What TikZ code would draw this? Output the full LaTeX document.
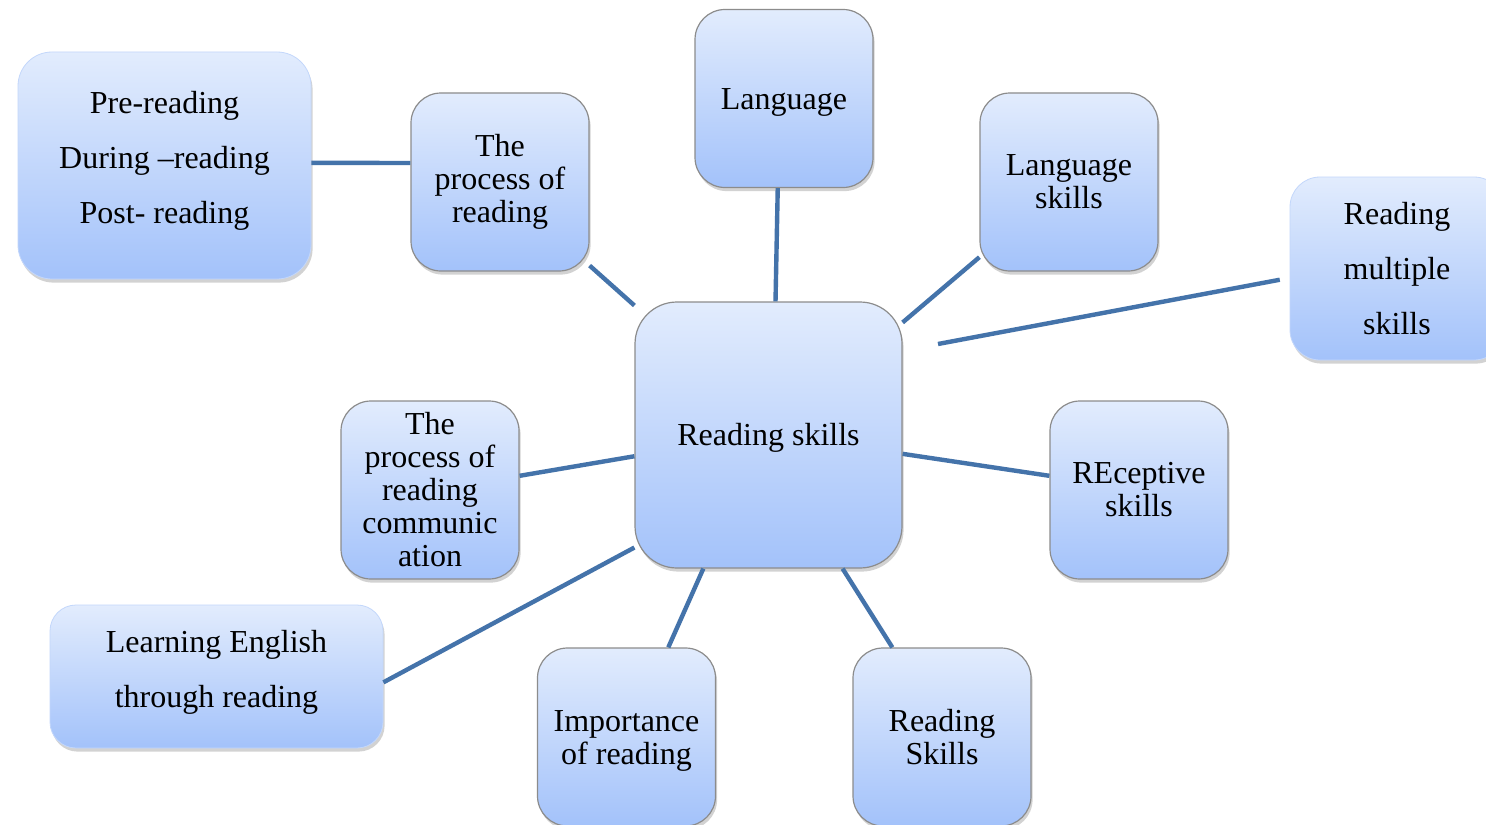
\documentclass[tikz,border=0pt]{standalone}
\usepackage{fontspec}
\setmainfont{Liberation Serif}
\usetikzlibrary{shadows,calc}
\definecolor{boxtop}{HTML}{E2ECFD}
\definecolor{boxbot}{HTML}{A3C2FA}
\definecolor{edgegray}{HTML}{8C8C8C}
\definecolor{linkblue}{HTML}{4473AA}
\tikzset{
 box/.style={rectangle, rounded corners=15pt, top color=boxtop, bottom color=boxbot,
   draw=edgegray, line width=0.6pt, align=center, font=\fontsize{16}{16.5}\selectfont,
   inner sep=2pt, drop shadow={opacity=0.35, shadow xshift=0.8pt, shadow yshift=-1.8pt}},
 softbox/.style={box, draw=boxtop!50!boxbot, line width=0.4pt},
 sqbox/.style={box, minimum width=89pt, minimum height=89pt},
 wide/.style={font=\fontsize{16}{27.5}\selectfont},
 conn/.style={draw=linkblue, line width=2.2pt},
}
\begin{document}
\begin{tikzpicture}[x=0.5pt,y=-0.5pt]
\clip (0,0) rectangle (1486,824);
\fill[white] (0,0) rectangle (1486,824);
\node[box, rounded corners=21pt, minimum width=133.5pt, minimum height=133pt] (c) at (768.5,435) {\rule{0pt}{14pt}Reading skills};
\node[softbox, wide, rounded corners=17pt, minimum width=146.5pt, minimum height=113.5pt] (pre) at (164.5,165.5) {Pre-reading\\During --reading\\Post- reading\rule[-8.5pt]{0pt}{1pt}};
\node[sqbox] (proc) at (500,182) {The\\process of\\reading};
\node[sqbox] (lang) at (784,98.5) {\rule{0pt}{14pt}Language};
\node[sqbox] (lskills) at (1069,182) {Language\\skills};
\node[softbox, wide, minimum width=107pt, minimum height=91.5pt] (multi) at (1397,268.5) {Reading\\multiple\\skills};
\node[sqbox] (recept) at (1139,490) {REceptive\\skills};
\node[sqbox] (comm) at (430,490) {The\\process of\\reading\\communic\\ation};
\node[softbox, wide, rounded corners=13pt, minimum width=166.5pt, minimum height=71.5pt] (learn) at (216.5,676.5) {Learning English\\through reading\rule[-7.5pt]{0pt}{1pt}};
\node[sqbox] (imp) at (626.5,737) {\rule{0pt}{14pt}Importance\\of reading};
\node[sqbox] (rs) at (942,737) {Reading\\Skills};
\coordinate (free) at (938,344);
\draw[conn] (pre.1) -- (proc.168);
\draw[conn] (proc.-43.4) -- (c.136.4);
\draw[conn] (lang.266.8) -- (c.87.2);
\draw[conn] (lskills.220.5) -- (c.40.2);
\draw[conn, shorten <=5pt] (multi.185.6) -- (free);
\draw[conn] (recept.171) -- (c.-8.5);
\draw[conn] (comm.9.6) -- (c.189.4);
\draw[conn] (learn.-2.2) -- (c.220.6);
\draw[conn] (imp.65) -- (c.244.8);
\draw[conn] (rs.119.8) -- (c.299.9);
\end{tikzpicture}
\end{document}
